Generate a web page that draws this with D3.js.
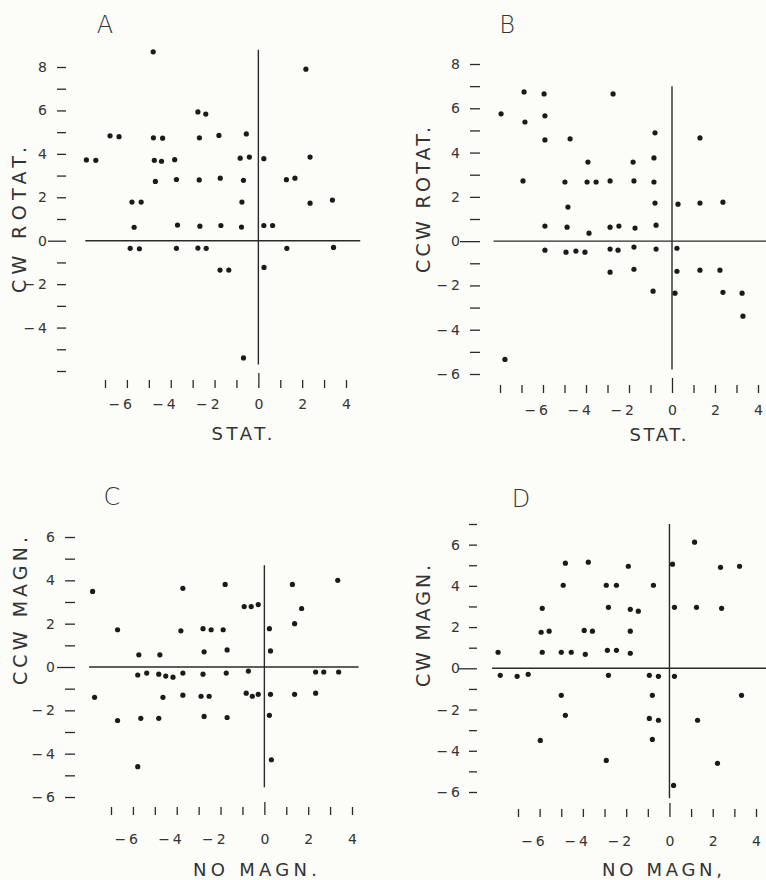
<!DOCTYPE html>
<html><head><meta charset="utf-8">
<script src="https://cdn.jsdelivr.net/npm/d3@7"></script>
<style>
body{margin:0;background:#fcfcf8;}
svg{display:block;background:#fcfcf8;}
text{font-family:"DejaVu Sans",sans-serif;fill:#333;}
</style></head><body>
<svg id="c" width="766" height="880"></svg>
<script>
// ---------- DATA ----------
const aX=[-4.8,2.17,-2.76,-2.4,-6.77,-6.36,-4.79,-4.37,-2.69,-1.8,-0.55,-7.85,-7.42,-4.75,-4.42,-3.82,-0.83,-0.41,0.25,2.36,-4.7,-3.74,-2.7,-1.74,-0.68,1.28,1.67,-5.77,-5.35,-0.75,2.36,3.38,-5.67,-3.69,-2.67,-1.71,-0.77,0.25,0.65,-5.85,-5.43,-3.74,-2.76,-2.38,1.3,3.43,-1.75,-1.35,0.26,-0.68];
const aY=[8.7,7.9,5.93,5.83,4.83,4.79,4.74,4.72,4.74,4.85,4.92,3.72,3.7,3.7,3.66,3.73,3.8,3.85,3.78,3.85,2.73,2.82,2.8,2.88,2.78,2.81,2.88,1.78,1.78,1.78,1.73,1.87,0.62,0.72,0.67,0.7,0.63,0.7,0.7,-0.35,-0.37,-0.35,-0.34,-0.35,-0.35,-0.31,-1.35,-1.35,-1.23,-5.4];

const bX=[-6.88,-5.95,-2.74,-7.95,-6.84,-5.91,-5.91,-4.74,-0.79,1.3,-3.91,-1.81,-0.84,-6.93,-4.98,-3.95,-3.53,-2.88,-1.77,-0.84,-4.84,-0.79,0.28,1.3,2.37,-5.91,-4.88,-3.86,-2.88,-2.47,-1.72,-0.74,-5.91,-4.93,-4.47,-4.05,-2.88,-2.51,-1.77,-0.74,0.23,-2.88,-1.77,0.23,1.3,2.23,-0.88,0.14,2.37,3.26,3.3,-7.77];
const bY=[6.74,6.65,6.65,5.75,5.38,5.66,4.57,4.62,4.89,4.66,3.57,3.57,3.76,2.72,2.67,2.67,2.67,2.72,2.72,2.67,1.54,1.72,1.67,1.72,1.76,0.68,0.63,0.36,0.63,0.68,0.59,0.72,-0.41,-0.5,-0.45,-0.5,-0.36,-0.41,-0.27,-0.36,-0.32,-1.4,-1.27,-1.36,-1.31,-1.31,-2.26,-2.35,-2.31,-2.35,-3.39,-5.34];

const cX=[-7.84,-3.72,-1.79,1.28,3.35,-0.92,-0.6,-0.28,1.7,-6.7,-3.81,-2.8,-2.43,-1.88,0.23,1.38,-2.75,-1.7,0.28,-5.73,-4.77,-5.78,-5.37,-4.82,-4.5,-4.17,-3.72,-2.8,-1.74,-0.73,2.34,2.71,3.39,-7.75,-4.63,-3.72,-2.89,-2.52,-0.83,-0.55,-0.28,0.28,1.38,2.34,-6.7,-5.64,-4.82,-2.75,-1.7,0.23,0.32,-5.78];
const cY=[3.49,3.63,3.81,3.81,4.0,2.79,2.79,2.88,2.7,1.72,1.67,1.77,1.72,1.72,1.77,2.0,0.7,0.79,0.74,0.56,0.56,-0.37,-0.28,-0.33,-0.42,-0.47,-0.28,-0.33,-0.28,-0.19,-0.23,-0.23,-0.23,-1.4,-1.4,-1.3,-1.35,-1.35,-1.21,-1.35,-1.26,-1.26,-1.26,-1.21,-2.47,-2.37,-2.37,-2.28,-2.33,-2.23,-4.28,-4.6];

const dX=[1.16,-4.81,-3.75,-1.9,0.14,2.36,3.24,-4.91,-2.92,-2.45,-0.74,-5.88,-2.82,-1.81,-1.44,0.23,1.25,2.41,-5.93,-5.56,-3.94,-3.56,-1.81,-7.92,-5.88,-5.0,-4.54,-3.89,-2.87,-2.45,-1.81,-7.82,-7.04,-6.53,-2.82,-0.93,-0.51,0.23,-5.0,-0.79,3.33,-4.81,-0.93,-0.51,1.3,-5.97,-0.79,-2.92,2.22,0.19];
const dY=[6.12,5.1,5.15,4.95,5.05,4.9,4.95,4.03,4.03,4.03,4.03,2.91,2.96,2.86,2.77,2.96,2.96,2.91,1.75,1.8,1.84,1.8,1.8,0.78,0.78,0.78,0.78,0.68,0.87,0.87,0.73,-0.34,-0.39,-0.29,-0.34,-0.34,-0.39,-0.39,-1.31,-1.31,-1.31,-2.28,-2.43,-2.52,-2.52,-3.5,-3.45,-4.47,-4.61,-5.68];

const yTicksA=[-6,-5,-4,-3,-2,-1,0,1,2,3,4,5,6,7,8], yLabelsA=[8,6,4,2,0,-2,-4];
const yTicksB=[-6,-5,-4,-3,-2,-1,0,1,2,3,4,5,6,7,8], yLabelsB=[8,6,4,2,0,-2,-4,-6];
const yTicksC=[-6,-5,-4,-3,-2,-1,0,1,2,3,4,5,6], yLabelsC=[6,4,2,0,-2,-4,-6];
const yTicksD=[-6,-5,-4,-3,-2,-1,0,1,2,3,4,5,6,7], yLabelsD=[6,4,2,0,-2,-4,-6];
const xTicksA=[-7,-6,-5,-4,-3,-2,-1,0,1,2,3,4];
const xTicksB=[-8,-7,-6,-5,-4,-3,-2,-1,0,1,2,3,4];
const xTicksC=[-7,-6,-5,-4,-3,-2,-1,0,1,2,3,4];
const xTicksD=[-7,-6,-5,-4,-3,-2,-1,0,1,2,3,4];
const xLabels=[-6,-4,-2,0,2,4];
const panelLetters=["A","B","C","D"];
const yTitles=["CW  ROTAT.","CCW  ROTAT.","CCW  MAGN.","CW  MAGN."];
const xTitles=["STAT.","STAT.","NO  MAGN.","NO  MAGN,"];

// ---------- LAYOUT ----------
const panels=[
 {xs:aX,ys:aY,xT:xTicksA,yT:yTicksA,yL:yLabelsA,xDom:[-7,4],xR:[105,346],yDom:[-6,8],yR:[371,67],
  v:[8.8,-5.7],h:[-7.9,4.65],yTickR:66,yLen:9,yZero:18,yPad:10,xTop:380,xLen:8,xZero:7,xLab:409,
  yTX:19,yTY:220,yTL:146,xTX:242,xTY:440,xTL:61,lx:105,ly:33},
 {xs:bX,ys:bY,xT:xTicksB,yT:yTicksB,yL:yLabelsB,xDom:[-8,4],xR:[500,758],yDom:[-6,8],yR:[374,64],
  v:[7.0,-5.8],h:[-8.3,4.6],yTickR:480,yLen:10,yZero:20,yPad:10,xTop:385,xLen:8,xZero:7,xLab:415,
  yTX:423,yTY:200,yTL:146,xTX:658,xTY:441,xTL:57,lx:507,ly:33},
 {xs:cX,ys:cY,xT:xTicksC,yT:yTicksC,yL:yLabelsC,xDom:[-7,4],xR:[111,352],yDom:[-6,6],yR:[797,537],
  v:[4.7,-5.55],h:[-8.0,4.3],yTickR:75,yLen:10,yZero:18,yPad:10,xTop:807,xLen:8,xZero:5,xLab:844,
  yTX:20,yTY:611,yTL:148,xTX:255,xTY:876,xTL:124,lx:112,ly:505},
 {xs:dX,ys:dY,xT:xTicksD,yT:yTicksD,yL:yLabelsD,xDom:[-7,4],xR:[518,756],yDom:[-6,7],yR:[792,524],
  v:[7.0,-6.3],h:[-8.2,4.6],yTickR:477,yLen:8,yZero:18,yPad:9,xTop:809,xLen:8,xZero:6,xLab:846,
  yTX:423,yTY:626,yTL:122,xTX:662,xTY:876,xTL:120,lx:521,ly:507}
];

const ink="#2a2a2a";
const fmt=v=>v<0?"\u2212\u2009"+(-v):String(v);
const svg=d3.select("#c");

panels.forEach((p,i)=>{
  const g=svg.append("g");
  const x=d3.scaleLinear().domain(p.xDom).range(p.xR);
  const y=d3.scaleLinear().domain(p.yDom).range(p.yR);

  // reference lines
  g.append("line").attr("x1",x(0)).attr("x2",x(0)).attr("y1",y(p.v[0])).attr("y2",y(p.v[1]))
    .attr("stroke",ink).attr("stroke-width",1.4);
  g.append("line").attr("x1",x(p.h[0])).attr("x2",x(p.h[1])).attr("y1",y(0)).attr("y2",y(0))
    .attr("stroke",ink).attr("stroke-width",1.4);

  // y axis
  const ya=d3.axisLeft(y).tickValues(p.yT).tickSize(p.yLen).tickPadding(p.yPad)
    .tickFormat(v=>p.yL.includes(v)?fmt(v):"");
  const yg=g.append("g").attr("transform",`translate(${p.yTickR},0)`).call(ya);
  yg.select(".domain").remove();
  yg.attr("font-family","DejaVu Sans, sans-serif").attr("font-size",14);
  yg.selectAll(".tick line").attr("stroke",ink).attr("stroke-width",1.3);
  yg.selectAll(".tick").filter(d=>d===0).select("line").attr("x2",-p.yZero);
  yg.selectAll(".tick text").attr("fill","#2f2f2f");

  // x axis
  const xa=d3.axisBottom(x).tickValues(p.xT).tickSize(p.xLen)
    .tickFormat(v=>xLabels.includes(v)?fmt(v):"");
  const xg=g.append("g").attr("transform",`translate(0,${p.xTop})`).call(xa);
  xg.select(".domain").remove();
  xg.attr("font-family","DejaVu Sans, sans-serif").attr("font-size",14);
  xg.selectAll(".tick line").attr("stroke",ink).attr("stroke-width",1.3);
  xg.selectAll(".tick").filter(d=>d===0).select("line").attr("y1",-p.xZero);
  xg.selectAll(".tick text").attr("fill","#2f2f2f").attr("text-anchor","end")
    .attr("x",4.5).attr("dy",0).attr("y",p.xLab-p.xTop);

  // points
  g.append("g").selectAll("circle").data(p.xs.map((d,k)=>[d,p.ys[k]])).join("circle")
    .attr("cx",d=>x(d[0])).attr("cy",d=>y(d[1])).attr("r",2.6).attr("fill","#1a1a1a");

  // titles
  g.append("text").attr("x",p.lx).attr("y",p.ly).attr("text-anchor","middle")
    .attr("font-size",24).attr("font-weight",200).text(panelLetters[i]);
  g.append("text").attr("transform",`translate(${p.yTX},${p.yTY}) rotate(-90)`)
    .attr("text-anchor","middle").attr("dy","0.36em").attr("font-size",19)
    .attr("textLength",p.yTL).attr("lengthAdjust","spacing").text(yTitles[i]);
  g.append("text").attr("x",p.xTX).attr("y",p.xTY).attr("text-anchor","middle")
    .attr("font-size",18).attr("textLength",p.xTL).attr("lengthAdjust","spacing").text(xTitles[i]);
});
</script>
</body></html>
